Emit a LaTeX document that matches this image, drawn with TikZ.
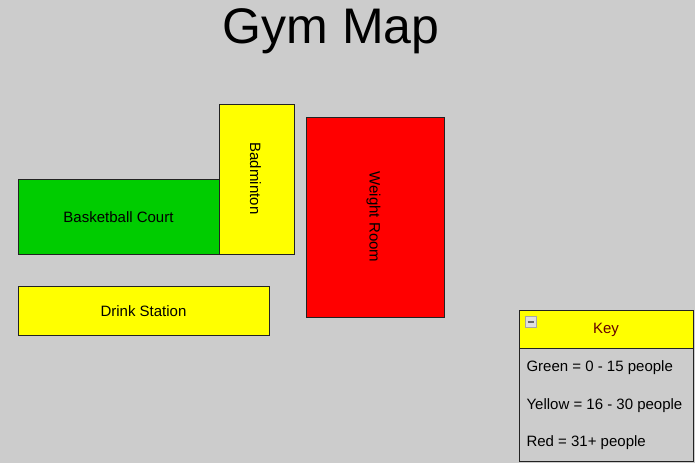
\documentclass[tikz,border=0pt]{standalone}
\usepackage{fontspec}
\setmainfont{Liberation Sans}
\definecolor{bg}{HTML}{CCCCCC}
\definecolor{grn}{HTML}{00CC00}
\definecolor{ylw}{HTML}{FFFF00}
\definecolor{rd}{HTML}{FF0000}
\definecolor{edge}{HTML}{222222}
\definecolor{keytxt}{HTML}{660000}
\begin{document}
\begin{tikzpicture}[x=1pt,y=-1pt,
  room/.style={draw=edge,line width=1pt},
  roomtext/.style={font=\fontsize{15}{17}\selectfont,text=black},
  keyline/.style={font=\fontsize{15}{17}\selectfont,text=black,anchor=west}]
\fill[bg] (0,0) rectangle (695,463);
\useasboundingbox (0,0) rectangle (695,463);
% title
\node[font=\fontsize{50}{56}\selectfont] (title) at (331,31) {Gym Map};
% rooms
\draw[room,fill=grn] (18,179) rectangle (219,254);
\node[roomtext] (bball) at (118.5,217) {Basketball Court};
\draw[room,fill=ylw] (219,104) rectangle (294,254);
\node[roomtext,rotate=-90] (badm) at (255.5,178.5) {Badminton};
\draw[room,fill=rd] (306,117) rectangle (444,317);
\node[roomtext,rotate=-90] (weight) at (373.5,217) {Weight Room};
\draw[room,fill=ylw] (18,286) rectangle (269,335);
\node[roomtext] (drink) at (143.5,311.5) {Drink Station};
% key
\draw[draw=edge,line width=1pt,fill=ylw] (519,310) rectangle (693,348);
\draw[draw=edge,line width=1pt] (519,348) rectangle (693,461);
\node[font=\fontsize{15}{17}\selectfont,text=keytxt] (keyt) at (606,330) {Key};
\draw[draw=gray!70,fill=gray!25,line width=0.8pt] (525,316) rectangle (536,327);
\draw[line width=2pt,draw=black!60] (527.5,321.5) -- (533.5,321.5);
\node[keyline] (k1) at (523,368) {Green = 0 - 15 people};
\node[keyline] (k2) at (523,405.5) {Yellow = 16 - 30 people};
\node[keyline] (k3) at (523,443) {Red = 31+ people};
\end{tikzpicture}
\end{document}
